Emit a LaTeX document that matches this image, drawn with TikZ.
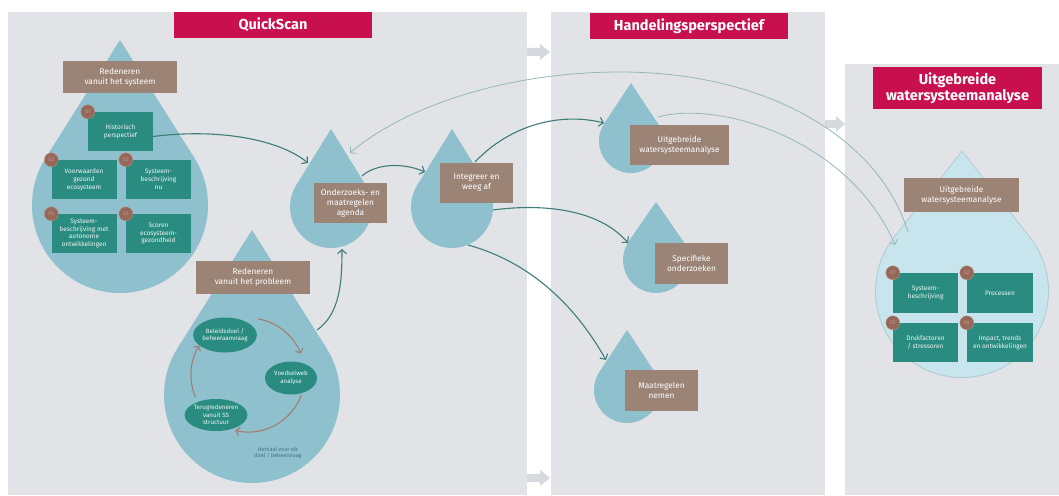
\documentclass[tikz,border=0pt]{standalone}
\usepackage{fontspec}
\setmainfont{Fira Sans}
\usetikzlibrary{arrows.meta,calc,shapes.geometric}
\definecolor{panelgray}{RGB}{225,227,230}
\definecolor{gaparrow}{RGB}{214,217,221}
\definecolor{crimson}{RGB}{200,16,78}
\definecolor{dropblue}{RGB}{142,192,206}
\definecolor{droplight}{RGB}{200,228,236}
\definecolor{dropedge}{RGB}{178,204,212}
\definecolor{boxbrown}{RGB}{155,132,118}
\definecolor{boxteal}{RGB}{42,140,128}
\definecolor{badgebrown}{RGB}{150,104,90}
\definecolor{badgetext}{RGB}{196,150,134}
\definecolor{conndark}{RGB}{62,125,120}
\definecolor{connlight}{RGB}{148,184,184}
\definecolor{loopbrown}{RGB}{166,124,112}
\definecolor{notetext}{RGB}{70,112,126}
\newcommand\mydrop[6]{% name, cx, cy, r, apex y, colour
  \pgfmathsetmacro\dropS{#4/(#3-#5)}%
  \pgfmathsetmacro\dropTx{#4*sqrt(1-\dropS*\dropS)}%
  \pgfmathsetmacro\dropTy{#3-#4*\dropS}%
  \pgfmathsetmacro\dropD{2*#4}%
  \fill[#6] (#2,#5) -- (#2-\dropTx,\dropTy) -- (#2+\dropTx,\dropTy) -- cycle;
  \node[circle,fill=#6,minimum size=\dropD pt,inner sep=0pt] (#1) at (#2,#3) {};
}
\tikzset{
  panel/.style={fill=panelgray},
  gaparr/.style={fill=gaparrow},
  titlebox/.style={fill=crimson,text=white,font=\bfseries\fontsize{14.5}{16.5}\selectfont,align=center,inner sep=0pt},
  brownbox/.style={fill=boxbrown,text=white,font=\fontsize{8.3}{10}\selectfont,align=center,inner sep=0pt},
  tealbox/.style={fill=boxteal,text=white!92!boxteal,font=\fontsize{6.5}{7.8}\selectfont,align=center,inner sep=0pt,minimum width=65pt,minimum height=39pt},
  badge/.style={circle,fill=badgebrown,draw=badgetext,line width=0.3pt,minimum size=14pt,inner sep=0pt,text=badgetext,font=\fontsize{5.5}{5.5}\selectfont},
  loopnode/.style={ellipse,fill=boxteal,text=white!92!boxteal,font=\fontsize{6.2}{7.4}\selectfont,align=center,inner sep=0pt},
  conn/.style={draw=conndark,line width=1.1pt,-{Straight Barb[length=4pt,width=9pt]}},
  thinconn/.style={draw=connlight,line width=0.8pt,-{Straight Barb[length=4pt,width=9pt]}},
  looparr/.style={draw=loopbrown,line width=1.1pt,-{Straight Barb[length=3.5pt,width=8pt]}},
}
\begin{document}
\begin{tikzpicture}[x=1pt,y=-1pt]
\useasboundingbox (0,0) rectangle (1059,495);
\fill[white] (0,0) rectangle (1059,495);
% panels
\fill[panel] (8,12) rectangle (527,495);
\fill[panel] (551,12) rectangle (825,495);
\fill[panel] (845,64) rectangle (1059,495);
% gap arrows
\fill[gaparr] (527,48) -- (540,48) -- (540,44) -- (550,52) -- (540,60) -- (540,56) -- (527,56) -- cycle;
\fill[gaparr] (527,474) -- (540,474) -- (540,470) -- (550,478) -- (540,486) -- (540,482) -- (527,482) -- cycle;
\fill[gaparr] (825,120) -- (836,120) -- (836,116) -- (845,124) -- (836,132) -- (836,128) -- (825,128) -- cycle;
% titles
\node[titlebox,minimum width=198pt,minimum height=26pt] (t1) at (273,25) {QuickScan};
\node[titlebox,minimum width=198pt,minimum height=26pt] (t2) at (689,26) {Handelingsperspectief};
\node[titlebox,minimum width=169pt,minimum height=42pt] (t3) at (957.5,88) {Uitgebreide\\watersysteemanalyse};
% drops
\mydrop{dA}{120}{205}{88}{40}{dropblue}
\mydrop{dB}{252}{395}{88}{230}{dropblue}
\mydrop{dC}{331}{207}{41}{129}{dropblue}
\mydrop{dD}{452}{207}{41}{129}{dropblue}
\mydrop{dE}{631}{141}{32}{83}{dropblue}
\mydrop{dF}{656}{260}{33}{202}{dropblue}
\mydrop{dG}{627}{390}{33}{330}{dropblue}
\mydrop{dHo}{962}{291}{87}{150.5}{dropedge}
\mydrop{dH}{962}{291}{86}{152}{droplight}
% connector end points
\coordinate (Cin1) at (308,163);
\coordinate (Bout) at (317,330);
\coordinate (Cin2) at (342,249);
\coordinate (Cout) at (362,176);
\coordinate (Din) at (425,172);
\coordinate (Dout1) at (475,162);
\coordinate (Ein) at (604,123);
\coordinate (Dout2) at (493,210);
\coordinate (Fin) at (628,243);
\coordinate (Dout3) at (468,245);
\coordinate (Gin) at (606,360);
\coordinate (Hout) at (908,232);
\coordinate (Cin3) at (350,153);
\coordinate (Eout) at (658,117);
\coordinate (Hin) at (895,245);
% thin connectors
\draw[thinconn] (Hout) .. controls (880,140) and (770,72) .. (620,72) .. controls (500,72) and (400,110) .. (Cin3);
\draw[thinconn] (Eout) .. controls (720,100) and (850,140) .. (Hin);
% brown boxes
\node[brownbox,minimum width=114pt,minimum height=32pt] (sys) at (120,77) {Redeneren\\vanuit het systeem};
\node[brownbox,minimum width=114pt,minimum height=33pt] (prob) at (253,277.5) {Redeneren\\vanuit het probleem};
\node[brownbox,minimum width=73pt,minimum height=40pt] (agenda) at (350.5,203) {Onderzoeks- en\\maatregelen\\agenda};
\node[brownbox,minimum width=73pt,minimum height=40pt] (integ) at (476.5,183) {Integreer en\\weeg af};
\node[brownbox,minimum width=99pt,minimum height=40pt] (uitgE) at (679.5,145) {Uitgebreide\\watersysteemanalyse};
\node[brownbox,minimum width=73pt,minimum height=41pt] (spec) at (691.5,263.5) {Specifieke\\onderzoeken};
\node[brownbox,minimum width=73pt,minimum height=41pt] (maat) at (661.5,390.5) {Maatregelen\\nemen};
\node[brownbox,minimum width=115pt,minimum height=34pt] (uitgH) at (961.5,195) {Uitgebreide\\watersysteemanalyse};
% teal boxes system
\node[tealbox] (a1) at (120.5,131.5) {Historisch\\perspectief};
\node[tealbox] (a2) at (84,179.5) {Voorwaarden\\gezond\\ecosysteem};
\node[tealbox] (a3) at (158.5,179.5) {Systeem-\\beschrijving\\nu};
\node[tealbox] (a4) at (84,233.5) {Systeem-\\beschrijving met\\autonome\\ontwikkelingen};
\node[tealbox] (a5) at (158.5,233.5) {Scoren\\ecosysteem-\\gezondheid};
\node[badge] (b1) at (a1.north west) {01};
\node[badge] (b2) at (a2.north west) {02};
\node[badge] (b3) at (a3.north west) {03};
\node[badge] (b4) at (a4.north west) {04};
\node[badge] (b5) at (a5.north west) {05};
% teal boxes right
\node[tealbox,minimum height=40pt] (h1) at (925.5,293) {Systeem-\\beschrijving};
\node[tealbox,minimum width=66pt,minimum height=40pt] (h2) at (1000,293) {Processen};
\node[tealbox] (h3) at (925.5,342.5) {Drukfactoren\\/ stressoren};
\node[tealbox,minimum width=66pt] (h4) at (1000,342.5) {Impact, trends\\en ontwikkelingen};
\node[badge] (hb1) at (h1.north west) {01};
\node[badge] (hb2) at (h2.north west) {02};
\node[badge] (hb3) at (h3.north west) {03};
\node[badge] (hb4) at (h4.north west) {04};
% loop
\node[loopnode,minimum width=60pt,minimum height=35pt] (bel) at (225,335) {Beleidsdoel /\\beheeraanvraag};
\node[loopnode,minimum width=52pt,minimum height=33pt] (voed) at (291,378) {Voedselweb\\analyse};
\node[loopnode,minimum width=62pt,minimum height=32pt] (terug) at (216,415) {Terugredeneren\\vanuit SS\\structuur};
\coordinate (l1s) at (257.9,318.9);
\coordinate (l1e) at (300.8,353.6);
\coordinate (l2s) at (301.2,395.4);
\coordinate (l2e) at (235.2,430.5);
\coordinate (l3s) at (195.5,397.3);
\coordinate (l3e) at (199.1,345.6);
\draw[looparr] (l1s) .. controls (277.3,322.3) and (293.4,335.3) .. (l1e);
\draw[looparr] (l2s) .. controls (291.0,421.9) and (262.9,436.9) .. (l2e);
\draw[looparr] (l3s) .. controls (188.4,380.5) and (189.7,361.2) .. (l3e);
\node[font=\fontsize{5.4}{6.4}\selectfont,text=notetext,align=center] (note) at (278,453) {Herhaal voor elk\\doel / beheervraag};
% dark connectors
\draw[conn] ($(a1.east)+(0,5)$) .. controls (220,128) and (280,140) .. (Cin1);
\draw[conn] (Bout) .. controls (340,314) and (342,282) .. (Cin2);
\draw[conn] (Cout) .. controls (375,164) and (402,162) .. (Din);
\draw[conn] (Dout1) .. controls (510,125) and (560,112) .. (Ein);
\draw[conn] (Dout2) .. controls (545,203) and (600,210) .. (Fin);
\draw[conn] (Dout3) .. controls (530,262) and (575,305) .. (Gin);
\end{tikzpicture}
\end{document}
